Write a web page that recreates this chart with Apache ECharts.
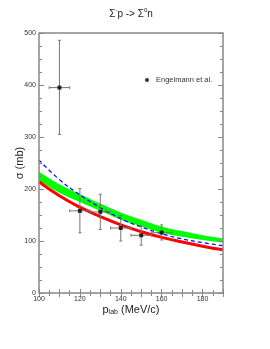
<!DOCTYPE html>
<html>
<head>
<meta charset="utf-8">
<script src="https://cdn.jsdelivr.net/npm/echarts@6/dist/echarts.min.js"></script>
<style>html,body{margin:0;padding:0;background:#fff}#c{width:270px;height:349px}</style>
</head>
<body>
<div id="c"></div>
<script>
// Model curves sampled at plab values
const curveX = [100, 110, 120, 130, 140, 150, 160, 170, 180, 190];
const redCurve = [214, 187, 165, 147, 131, 118, 107, 98, 90, 83];
const blueCurve = [256, 218, 189, 164, 143, 127, 114, 104, 97, 91];
const greenLow = [217, 193, 175, 158, 141, 128, 116, 108, 102, 97];
const greenHigh = [233, 209, 190, 172, 155, 141, 128, 119, 111, 105];

// Engelmann et al. data
const dataX = [110, 120, 130, 140, 150, 160];
const dataY = [395, 158, 156, 125, 111, 116];
const dataYLow = [305, 116, 122, 100, 92, 102];
const dataYHigh = [486, 201, 190, 149, 129, 131];
const dataXLow = [105, 115, 125, 135, 145, 155];
const dataXHigh = [115, 125, 135, 145, 155, 165];

const xTickLabels = [100, 120, 140, 160, 180];
const yTickLabels = [0, 100, 200, 300, 400, 500];

const chart = echarts.init(document.getElementById('c'), null, {renderer: 'canvas'});
const F = 'Liberation Sans, Arial, sans-serif';
const axisGray = '#888';

const pairs = (xs, ys) => xs.map((x, i) => [x, ys[i]]);

const errData = dataX.map((x, i) => [x, dataY[i], dataYLow[i], dataYHigh[i], dataXLow[i], dataXHigh[i]]);

function xAxisCfg(pos, labels) {
  return {
    type: 'value', min: 100, max: 190, interval: 10, position: pos, z: 10,
    axisLine: {show: false},
    axisTick: {show: true, inside: true, length: 4, lineStyle: {color: axisGray, width: 1}},
    minorTick: {show: true, splitNumber: 2, length: 3, lineStyle: {color: axisGray, width: 1}},
    splitLine: {show: false}, minorSplitLine: {show: false},
    axisLabel: labels ? {
      show: true, fontSize: 7, color: '#333', fontFamily: F, margin: 3,
      formatter: v => xTickLabels.indexOf(v) >= 0 ? String(v) : ''
    } : {show: false}
  };
}
function yAxisCfg(pos, labels) {
  return {
    type: 'value', min: 0, max: 500, interval: 100, position: pos, z: 10,
    axisLine: {show: false},
    axisTick: {show: true, inside: true, length: 5, lineStyle: {color: axisGray, width: 1}},
    minorTick: {show: true, splitNumber: 4, length: 3, lineStyle: {color: axisGray, width: 1}},
    splitLine: {show: false}, minorSplitLine: {show: false},
    axisLabel: labels ? {
      show: true, fontSize: 7, color: '#333', fontFamily: F, margin: 3,
      formatter: v => yTickLabels.indexOf(v) >= 0 ? String(v) : ''
    } : {show: false}
  };
}

const xb = xAxisCfg('bottom', true);
xb.name = 'p{sub|lab} (MeV/c)';
xb.nameLocation = 'middle';
xb.nameGap = 10;
xb.nameMoveOverlap = false;
xb.nameTextStyle = {fontSize: 11, color: '#222', fontFamily: F,
  rich: {sub: {fontSize: 7, fontFamily: F, color: '#222', padding: [6, 0, 0, 0]}}};
const yl = yAxisCfg('left', true);
yl.name = 'σ (mb)';
yl.nameLocation = 'middle';
yl.nameGap = 14;
yl.nameMoveOverlap = false;
yl.nameTextStyle = {fontSize: 11, color: '#222', fontFamily: F};

chart.setOption({
  animation: false,
  backgroundColor: '#fff',
  graphic: [{
    type: 'text', x: 131, y: 14,
    style: {
      text: 'Σ{sup|-}p -> Σ{sup|0}n',
      align: 'center', verticalAlign: 'middle',
      font: '10px ' + F, fill: '#222',
      rich: {sup: {fontSize: 6, fontFamily: F, fill: '#222', padding: [0, 0, 7, 0]}}
    }
  }],
  grid: {left: 39, right: 47, top: 33, bottom: 56, show: true, z: 10, borderColor: axisGray, borderWidth: 1.5, backgroundColor: 'transparent'},
  legend: {
    left: 140, top: 71, orient: 'vertical',
    itemWidth: 8, itemHeight: 4, itemGap: 4,
    data: [{name: 'Engelmann et al.', icon: 'circle'}],
    textStyle: {fontSize: 7.5, color: '#333', fontFamily: F}
  },
  xAxis: [xb, xAxisCfg('top', false)],
  yAxis: [yl, yAxisCfg('right', false)],
  series: [
    {
      name: 'bandHigh', type: 'line', data: pairs(curveX, greenHigh),
      smooth: true, showSymbol: false, symbol: 'none', silent: true,
      lineStyle: {width: 0, opacity: 0}, areaStyle: {color: '#00ff00', opacity: 1}, z: 1
    },
    {
      name: 'bandLow', type: 'line', data: pairs(curveX, greenLow),
      smooth: true, showSymbol: false, symbol: 'none', silent: true,
      lineStyle: {width: 0, opacity: 0}, areaStyle: {color: '#ffffff', opacity: 1}, z: 1
    },
    {
      name: 'red', type: 'line', data: pairs(curveX, redCurve), smooth: true,
      showSymbol: false, symbol: 'none', silent: true,
      lineStyle: {color: '#ff0000', width: 3}, z: 2
    },
    {
      name: 'blue', type: 'line', data: pairs(curveX, blueCurve), smooth: true,
      showSymbol: false, symbol: 'none', silent: true,
      lineStyle: {color: '#0000ff', width: 1.2, type: [4, 3]}, z: 3
    },
    {
      name: 'err', type: 'custom', data: errData, encode: {x: 0, y: 1}, z: 4, silent: true,
      renderItem: function (params, api) {
        const x = api.value(0), y = api.value(1);
        const lo = api.coord([x, api.value(2)]);
        const hi = api.coord([x, api.value(3)]);
        const l = api.coord([api.value(4), y]);
        const r = api.coord([api.value(5), y]);
        const c = 1.5;
        const st = {stroke: '#777', lineWidth: 1};
        const ln = (x1, y1, x2, y2) => ({type: 'line', shape: {x1, y1, x2, y2}, style: st});
        return {type: 'group', children: [
          ln(lo[0], lo[1], hi[0], hi[1]),
          ln(lo[0] - c, lo[1], lo[0] + c, lo[1]),
          ln(hi[0] - c, hi[1], hi[0] + c, hi[1]),
          ln(l[0], l[1], r[0], r[1]),
          ln(l[0], l[1] - c, l[0], l[1] + c),
          ln(r[0], r[1] - c, r[0], r[1] + c)
        ]};
      }
    },
    {
      name: 'Engelmann et al.', type: 'scatter', data: pairs(dataX, dataY),
      symbol: 'rect', symbolSize: 4, itemStyle: {color: '#000'}, z: 5
    }
  ]
});
</script>
</body>
</html>
